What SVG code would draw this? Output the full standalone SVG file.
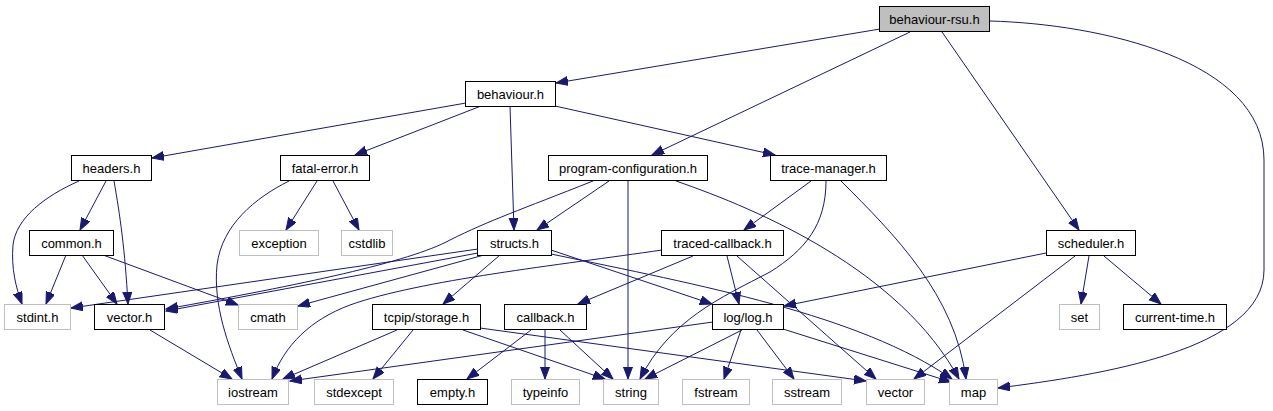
<svg xmlns="http://www.w3.org/2000/svg" width="1273" height="411" viewBox="0 0 1273 411">
<style>
.n rect{fill:#ffffff;stroke:#000000;stroke-width:1}
.g rect{fill:#ffffff;stroke:#bfbfbf;stroke-width:1}
.r rect{fill:#bfbfbf;stroke:#000000;stroke-width:1}
text{font-family:"Liberation Sans",Arial,sans-serif;font-size:13px;fill:#000000;text-anchor:middle}
#edges path{fill:none;stroke:#191970;stroke-width:1;marker-end:url(#arr)}
</style>
<defs>
<marker id="arr" markerUnits="userSpaceOnUse" markerWidth="13" markerHeight="10" refX="12" refY="4.5" orient="auto">
<path d="M0,0 L12,4.5 L0,9 z" fill="#191970" stroke="#191970" stroke-width="1"/>
</marker>
</defs>
<rect x="0" y="0" width="1273" height="411" fill="#ffffff"/>
<g id="edges">
<path d="M880,29 L556,83"/>
<path d="M910,32 L652,155"/>
<path d="M942,32 L1079,230"/>
<path d="M990,21 C1100,24 1264,60 1264,160 L1264,270 C1264,350 1100,375 998,388"/>
<path d="M466,103 L152,158"/>
<path d="M481,106 L355,155"/>
<path d="M510,106 L514,230"/>
<path d="M555,106 L775,155"/>
<path d="M79,181 C45,196 16,218 13,245 C11,268 16,288 22,304"/>
<path d="M106,181 L80,230"/>
<path d="M114,181 C120,215 125,250 128,304"/>
<path d="M289,181 C255,198 222,225 217,265 C213,305 228,345 242,379"/>
<path d="M317,181 L286,230"/>
<path d="M333,181 L359,230"/>
<path d="M609,181 L537,230"/>
<path d="M593,181 C520,210 490,220 450,240 C410,262 300,285 166,309"/>
<path d="M628,181 L628,379"/>
<path d="M676,181 C760,210 900,270 959,379"/>
<path d="M811,181 L744,230"/>
<path d="M826,181 C826,225 805,250 770,272 C720,298 670,320 640,379"/>
<path d="M841,181 C895,235 955,295 966,379"/>
<path d="M478,249 L71,308"/>
<path d="M478,253 L166,311"/>
<path d="M484,255 L298,306"/>
<path d="M500,255 L443,304"/>
<path d="M551,250 L712,304"/>
<path d="M551,254 C700,285 860,315 952,379"/>
<path d="M662,250 C560,265 420,280 350,305 C310,320 285,345 272,379"/>
<path d="M693,256 L578,304"/>
<path d="M727,256 L739,304"/>
<path d="M737,256 L876,379"/>
<path d="M1046,253 L784,306"/>
<path d="M1075,256 L914,379"/>
<path d="M1089,256 L1081,304"/>
<path d="M1104,256 L1161,304"/>
<path d="M66,255 L46,304"/>
<path d="M82,255 L117,304"/>
<path d="M103,255 L238,305"/>
<path d="M150,330 L232,379"/>
<path d="M397,330 L283,379"/>
<path d="M413,330 L373,379"/>
<path d="M463,330 L605,379"/>
<path d="M480,328 L866,381"/>
<path d="M531,330 L467,379"/>
<path d="M545,330 L545,379"/>
<path d="M560,330 L613,379"/>
<path d="M713,322 L290,381"/>
<path d="M742,330 L645,379"/>
<path d="M741,330 L724,379"/>
<path d="M757,330 L794,379"/>
<path d="M783,329 L951,382"/>
</g>
<g id="node-behaviour-rsu" class="r"><rect x="879.5" y="6.5" width="110" height="25"/><text x="934.5" y="23.5">behaviour-rsu.h</text></g>
<g id="node-behaviour" class="n"><rect x="465.5" y="81.5" width="90" height="25"/><text x="510.5" y="98.5">behaviour.h</text></g>
<g id="node-headers" class="n"><rect x="71.5" y="155.5" width="80" height="25"/><text x="111.5" y="172.5">headers.h</text></g>
<g id="node-fatal-error" class="n"><rect x="280.5" y="155.5" width="89" height="25"/><text x="325" y="172.5">fatal-error.h</text></g>
<g id="node-program-configuration" class="n"><rect x="548.5" y="155.5" width="159" height="25"/><text x="628" y="172.5">program-configuration.h</text></g>
<g id="node-trace-manager" class="n"><rect x="770.5" y="155.5" width="116" height="25"/><text x="828.5" y="172.5">trace-manager.h</text></g>
<g id="node-common" class="n"><rect x="29.5" y="230.5" width="84" height="25"/><text x="71.5" y="247.5">common.h</text></g>
<g id="node-exception" class="g"><rect x="239.5" y="230.5" width="79" height="25"/><text x="279" y="247.5">exception</text></g>
<g id="node-cstdlib" class="g"><rect x="341.5" y="230.5" width="51" height="25"/><text x="367" y="247.5">cstdlib</text></g>
<g id="node-structs" class="n"><rect x="477.5" y="230.5" width="74" height="25"/><text x="514.5" y="247.5">structs.h</text></g>
<g id="node-traced-callback" class="n"><rect x="661.5" y="230.5" width="122" height="25"/><text x="722.5" y="247.5">traced-callback.h</text></g>
<g id="node-scheduler" class="n"><rect x="1046.5" y="230.5" width="89" height="25"/><text x="1091" y="247.5">scheduler.h</text></g>
<g id="node-stdint" class="g"><rect x="4.5" y="304.5" width="66" height="25"/><text x="37.5" y="321.5">stdint.h</text></g>
<g id="node-vector-h" class="n"><rect x="94.5" y="304.5" width="70" height="25"/><text x="129.5" y="321.5">vector.h</text></g>
<g id="node-cmath" class="g"><rect x="238.5" y="304.5" width="59" height="25"/><text x="268" y="321.5">cmath</text></g>
<g id="node-tcpip-storage" class="n"><rect x="372.5" y="304.5" width="108" height="25"/><text x="426.5" y="321.5">tcpip/storage.h</text></g>
<g id="node-callback" class="n"><rect x="504.5" y="304.5" width="82" height="25"/><text x="545.5" y="321.5">callback.h</text></g>
<g id="node-log" class="n"><rect x="712.5" y="304.5" width="71" height="25"/><text x="748" y="321.5">log/log.h</text></g>
<g id="node-set" class="g"><rect x="1059.5" y="304.5" width="40" height="25"/><text x="1079.5" y="321.5">set</text></g>
<g id="node-current-time" class="n"><rect x="1123.5" y="304.5" width="103" height="25"/><text x="1175" y="321.5">current-time.h</text></g>
<g id="node-iostream" class="g"><rect x="217.5" y="379.5" width="71" height="25"/><text x="253" y="396.5">iostream</text></g>
<g id="node-stdexcept" class="g"><rect x="314.5" y="379.5" width="79" height="25"/><text x="354" y="396.5">stdexcept</text></g>
<g id="node-empty" class="n"><rect x="417.5" y="379.5" width="70" height="25"/><text x="452.5" y="396.5">empty.h</text></g>
<g id="node-typeinfo" class="g"><rect x="511.5" y="379.5" width="68" height="25"/><text x="545.5" y="396.5">typeinfo</text></g>
<g id="node-string" class="g"><rect x="603.5" y="379.5" width="55" height="25"/><text x="631" y="396.5">string</text></g>
<g id="node-fstream" class="g"><rect x="682.5" y="379.5" width="67" height="25"/><text x="716" y="396.5">fstream</text></g>
<g id="node-sstream" class="g"><rect x="772.5" y="379.5" width="69" height="25"/><text x="807" y="396.5">sstream</text></g>
<g id="node-vector" class="g"><rect x="866.5" y="379.5" width="58" height="25"/><text x="895.5" y="396.5">vector</text></g>
<g id="node-map" class="g"><rect x="949.5" y="379.5" width="48" height="25"/><text x="973.5" y="396.5">map</text></g>
</svg>
